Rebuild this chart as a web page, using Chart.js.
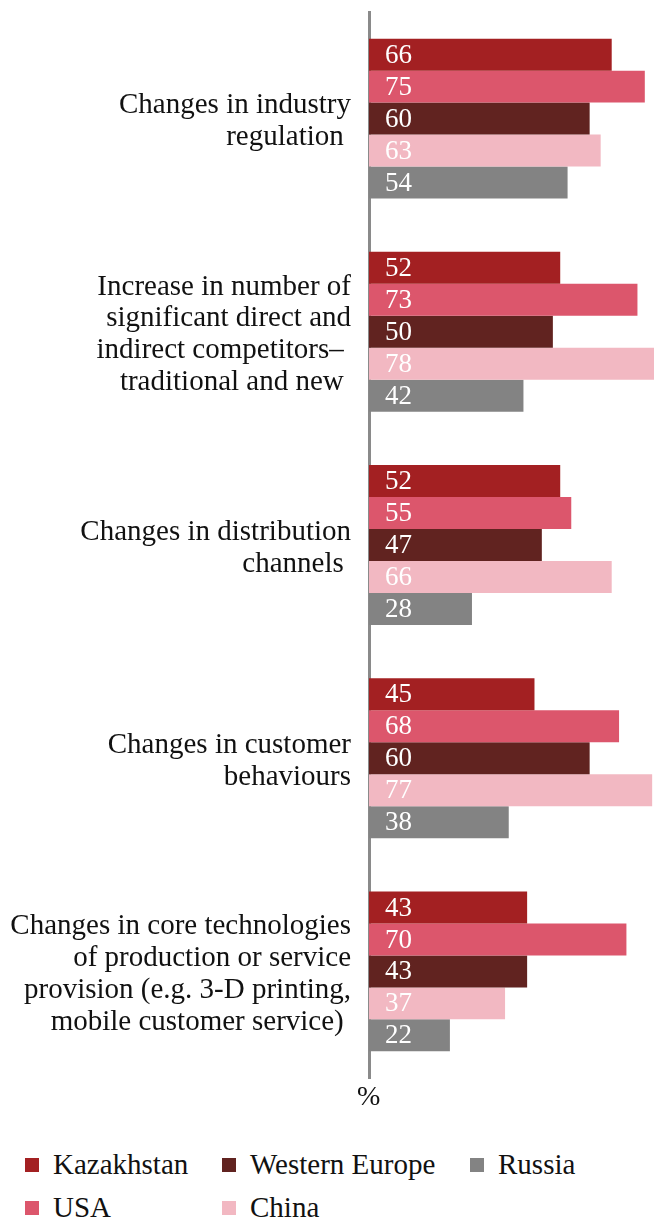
<!DOCTYPE html>
<html>
<head>
<meta charset="utf-8">
<script src="https://cdn.jsdelivr.net/npm/chart.js@4/dist/chart.umd.min.js"></script>
<style>
  body { margin: 0; background: #fff; font-family: "Liberation Serif", serif; }
  #wrap { position: relative; width: 654px; height: 1219px; }
  #chartBox { position: absolute; left: 0; top: 0; width: 654px; height: 1120px; }
  #pct { position: absolute; left: 357px; top: 1080px; font-size: 28px; color: #111; }
  .leg { position: absolute; font-size: 29px; color: #111; line-height: 1; white-space: nowrap; }
  .leg i { position: absolute; left: 0; top: 0; width: 14px; height: 14px; }
  .leg span { position: absolute; left: 28px; top: -8px; }
</style>
</head>
<body>
<div id="wrap">
  <div id="chartBox"><canvas id="bars"></canvas></div>
  <div id="pct">%</div>
  <div id="legend"></div>
</div>
<script>
const categories = [
  ['Changes in industry', 'regulation '],
  ['Increase in number of', 'significant direct and', 'indirect competitors\u2013 ', 'traditional and new '],
  ['Changes in distribution', 'channels '],
  ['Changes in customer', 'behaviours'],
  ['Changes in core technologies', 'of production or service', 'provision (e.g. 3-D printing,', 'mobile customer service) ']
];
const seriesNames = ['Kazakhstan', 'USA', 'Western Europe', 'China', 'Russia'];
const seriesColors = ['#a32022', '#dc566c', '#612320', '#f2b8c2', '#838383'];
const kazakhstan = [66, 52, 52, 45, 43];
const usa = [75, 73, 55, 68, 70];
const westernEurope = [60, 50, 47, 60, 43];
const china = [63, 78, 66, 77, 37];
const russia = [54, 42, 28, 38, 22];
const seriesValues = [kazakhstan, usa, westernEurope, china, russia];

const FONT = '"Liberation Serif", serif';

// white value text at the start of every bar
const valueLabels = {
  id: 'valueLabels',
  afterDatasetsDraw(chart) {
    const ctx = chart.ctx;
    ctx.save();
    ctx.font = '27px ' + FONT;
    ctx.fillStyle = '#fff';
    ctx.textBaseline = 'middle';
    ctx.textAlign = 'left';
    chart.data.datasets.forEach((ds, i) => {
      chart.getDatasetMeta(i).data.forEach((bar, j) => {
        ctx.fillText(ds.data[j], bar.base + 16, bar.y + 1);
      });
    });
    ctx.restore();
  }
};

new Chart(document.getElementById('bars'), {
  type: 'bar',
  data: {
    labels: categories,
    datasets: seriesNames.map((name, i) => ({
      label: name,
      data: seriesValues[i],
      backgroundColor: seriesColors[i],
      borderWidth: 0,
      barPercentage: 1,
      categoryPercentage: 0.75
    }))
  },
  options: {
    indexAxis: 'y',
    responsive: true,
    maintainAspectRatio: false,
    animation: false,
    layout: { padding: { top: 12, bottom: 42, left: 0, right: 0 } },
    plugins: {
      legend: { display: false },
      tooltip: { enabled: false }
    },
    scales: {
      x: {
        display: false,
        min: 0,
        max: 77.5
      },
      y: {
        grid: { display: false, drawTicks: false },
        border: { display: true, color: '#8a8a8a', width: 3 },
        ticks: {
          autoSkip: false,
          padding: 18,
          labelOffset: 3,
          color: '#111',
          font: { family: FONT, size: 29, lineHeight: 1.1 }
        },
        afterFit(scale) {
          // fixed label column, no extra room for tall multi-line labels
          scale.width = 369;
          scale.paddingTop = 0;
          scale.paddingBottom = 0;
        }
      }
    }
  },
  plugins: [valueLabels]
});

// legend laid out in three columns, two rows
const legendPos = [
  [25, 1158], [25, 1201], [222, 1158], [222, 1201], [470, 1158]
];
const legendBox = document.getElementById('legend');
seriesNames.forEach((name, s) => {
  const el = document.createElement('div');
  el.className = 'leg';
  el.style.left = legendPos[s][0] + 'px';
  el.style.top = legendPos[s][1] + 'px';
  el.innerHTML = '<i style="background:' + seriesColors[s] + '"></i><span>' + name + '</span>';
  legendBox.appendChild(el);
});
</script>
</body>
</html>
